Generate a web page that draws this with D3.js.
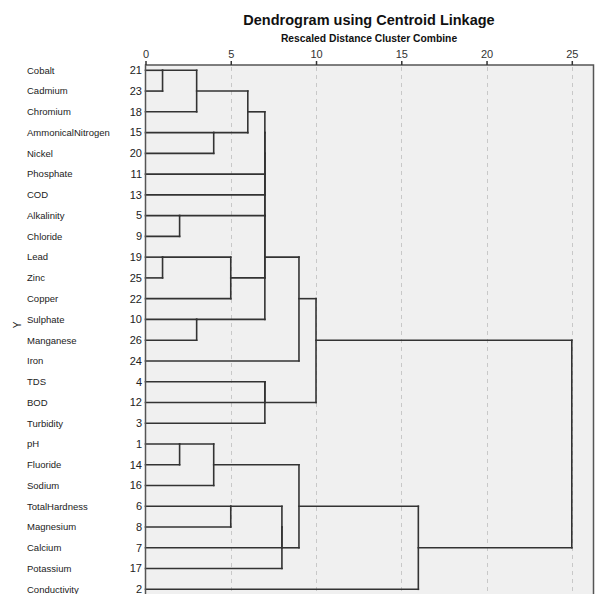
<!DOCTYPE html>
<html>
<head>
<meta charset="utf-8">
<script src="https://cdn.jsdelivr.net/npm/d3@7"></script>
<style>
  html, body { margin: 0; padding: 0; background: #fff; }
  svg { display: block; font-family: "Liberation Sans", Arial, sans-serif; }
</style>
</head>
<body>
<svg id="chart" width="595" height="594"></svg>
<script>
// Variables in display order (top to bottom) and their case numbers
const labels = ["Cobalt", "Cadmium", "Chromium", "AmmonicalNitrogen", "Nickel", "Phosphate", "COD",
  "Alkalinity", "Chloride", "Lead", "Zinc", "Copper", "Sulphate", "Manganese", "Iron", "TDS", "BOD",
  "Turbidity", "pH", "Fluoride", "Sodium", "TotalHardness", "Magnesium", "Calcium", "Potassium", "Conductivity"];
const caseIds = [21, 23, 18, 15, 20, 11, 13, 5, 9, 19, 25, 22, 10, 26, 24, 4, 12, 3, 1, 14, 16, 6, 8, 7, 17, 2];

// Agglomeration steps: ids 0..25 are rows, each step k creates cluster id 26 + k
const mergeLeft  = [0, 9, 18, 7, 26, 12, 3, 28, 27, 21, 30, 36, 37, 38, 39, 40, 15, 42, 35, 44, 41, 33, 46, 47, 48];
const mergeRight = [1, 10, 19, 8, 2, 13, 4, 20, 11, 22, 32, 5, 6, 29, 34, 31, 16, 17, 23, 24, 14, 45, 43, 25, 49];
const mergeDist  = [1, 1, 2, 2, 3, 3, 4, 4, 5, 5, 6, 7, 7, 7, 7, 7, 7, 7, 8, 8, 9, 9, 10, 16, 25];

const distTicks = [0, 5, 10, 15, 20, 25];

const svg = d3.select("#chart");
const n = labels.length;

const x = d3.scaleLinear().domain([0, 25]).range([145.5, 571.8]);
const y = d3.scaleLinear().domain([0, n - 1]).range([70.3, 589.3]);

const plotLeft = 145.5, plotTop = 65, plotRight = 594;

// Plot background
svg.append("rect")
  .attr("x", plotLeft).attr("y", plotTop)
  .attr("width", plotRight - plotLeft).attr("height", 600 - plotTop)
  .attr("fill", "#f0f0f0");

// Dashed reference lines
svg.append("g").selectAll("line")
  .data(distTicks.filter(d => d > 0))
  .join("line")
  .attr("x1", d => Math.round(x(d)) + 0.5).attr("x2", d => Math.round(x(d)) + 0.5)
  .attr("y1", plotTop + 2).attr("y2", 600)
  .attr("stroke", "#c8c8c8").attr("stroke-width", 1)
  .attr("stroke-dasharray", "4,4");

// Build cluster geometry: representative row and height
const rep = d3.range(n);
const height = d3.range(n).map(() => 0);
const segs = [];
mergeLeft.forEach((a, k) => {
  const b = mergeRight[k], d = mergeDist[k];
  segs.push({x1: height[a], x2: d, y1: rep[a], y2: rep[a]});
  segs.push({x1: height[b], x2: d, y1: rep[b], y2: rep[b]});
  segs.push({x1: d, x2: d, y1: rep[a], y2: rep[b]});
  rep.push(Math.floor((rep[a] + rep[b]) / 2));
  height.push(d);
});

svg.append("g").selectAll("line")
  .data(segs)
  .join("line")
  .attr("x1", s => x(s.x1)).attr("x2", s => x(s.x2))
  .attr("y1", s => y(s.y1)).attr("y2", s => y(s.y2))
  .attr("stroke", "#333").attr("stroke-width", 1.6)
  .attr("stroke-linecap", "square");

// Plot frame (top, left, right)
svg.append("path")
  .attr("d", `M${plotLeft},600V${plotTop}H${plotRight - 0.5}V600`)
  .attr("fill", "none").attr("stroke", "#555").attr("stroke-width", 1.5);

// Distance axis on top
const axis = svg.append("g")
  .attr("transform", `translate(0,${plotTop})`)
  .call(d3.axisTop(x).tickValues(distTicks).tickSize(4).tickPadding(3));
axis.select(".domain").remove();
axis.selectAll(".tick line").attr("stroke", "#333").attr("stroke-width", 1.5);
axis.selectAll(".tick text")
  .attr("font-family", "Liberation Sans, Arial, sans-serif")
  .attr("font-size", 11).attr("fill", "#333");

// Row labels and case numbers
const rows = svg.append("g");
rows.selectAll("text.name")
  .data(labels)
  .join("text")
  .attr("class", "name")
  .attr("x", 27).attr("y", (d, i) => y(i))
  .attr("dy", "0.35em")
  .attr("font-size", 9.5).attr("fill", "#222")
  .text(d => d);
rows.selectAll("text.case")
  .data(caseIds)
  .join("text")
  .attr("class", "case")
  .attr("x", 142).attr("y", (d, i) => y(i))
  .attr("dy", "0.35em")
  .attr("text-anchor", "end")
  .attr("font-size", 11).attr("fill", "#222")
  .text(d => d);

// Axis title "Y"
svg.append("text")
  .attr("transform", "translate(21,325) rotate(-90)")
  .attr("text-anchor", "middle")
  .attr("font-size", 10).attr("fill", "#222")
  .text("Y");

// Titles
svg.append("text")
  .attr("x", 369).attr("y", 25)
  .attr("text-anchor", "middle")
  .attr("font-size", 14.5).attr("font-weight", "bold").attr("fill", "#111")
  .text("Dendrogram using Centroid Linkage");
svg.append("text")
  .attr("x", 369).attr("y", 41.5)
  .attr("text-anchor", "middle")
  .attr("font-size", 10.3).attr("font-weight", "bold").attr("fill", "#111")
  .text("Rescaled Distance Cluster Combine");
</script>
</body>
</html>
